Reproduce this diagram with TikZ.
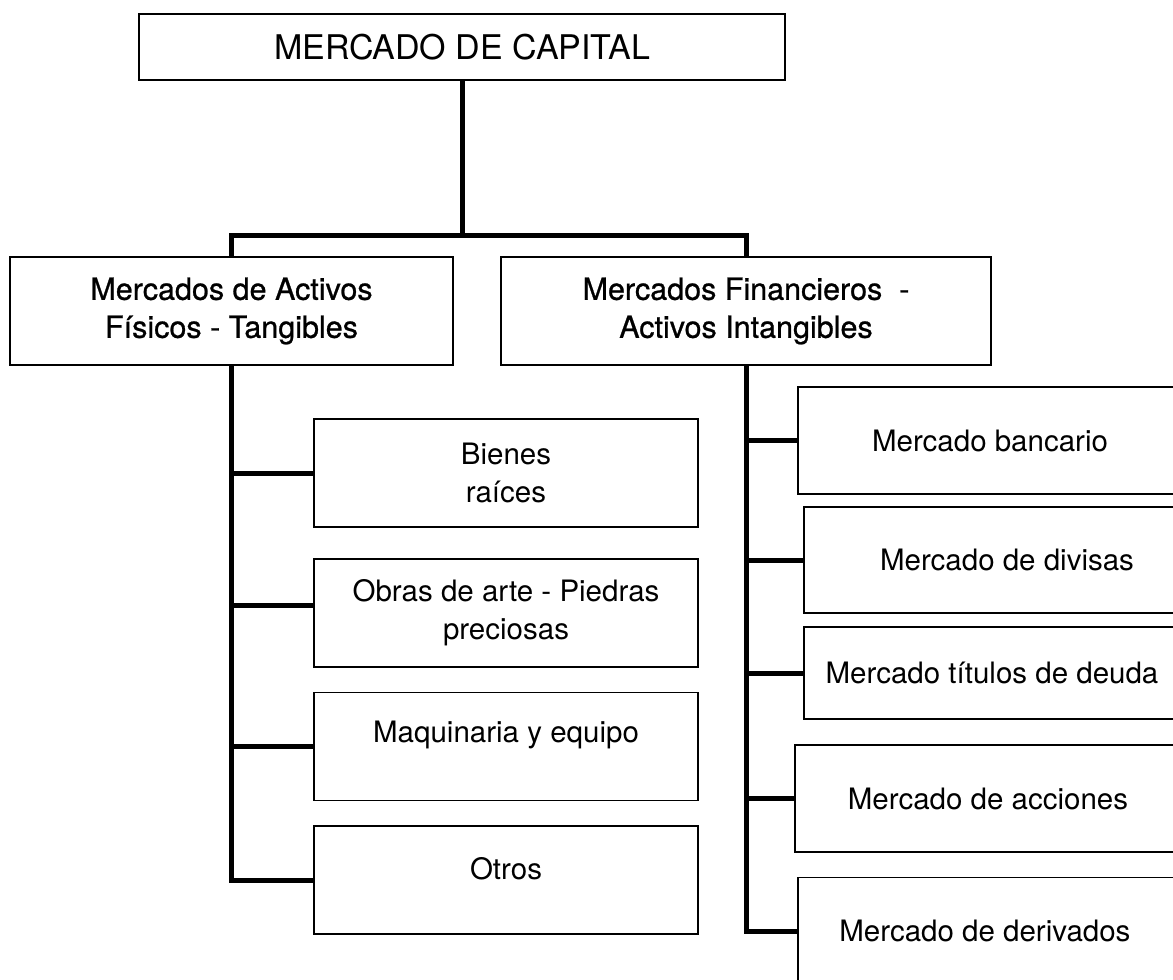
\documentclass[tikz,border=0pt]{standalone}
\usepackage{fontspec}
\setmainfont{TeX Gyre Heros}
\newfontfamily\medfont[FakeBold=0.8]{TeX Gyre Heros}

\begin{document}
\begin{tikzpicture}[x=1pt, y=-1pt,
        mainbox/.style={draw, line width=2pt, inner sep=0pt, minimum width=646pt, minimum height=66pt, font=\fontsize{34}{40}\selectfont},
        groupbox/.style={draw, line width=1.4pt, inner sep=0pt, minimum height=108pt, align=center, font=\medfont\fontsize{30.5}{38}\selectfont},
        itembox/.style={draw, line width=1.2pt, inner sep=0pt, align=center, minimum width=384pt, minimum height=108pt, font=\fontsize{29.5}{38}\selectfont},
        link/.style={line width=5pt}
    ]
        \useasboundingbox (0,0) rectangle (1173,980);

        % Top and the two market groups
        \node[mainbox] (capital) at (462,47) {MERCADO DE CAPITAL};
        \node[groupbox, minimum width=443pt] (fisicos) at (231.5,311) {Mercados de Activos\\Físicos - Tangibles};
        \node[groupbox, minimum width=490pt] (financieros) at (746,311) {Mercados Financieros\ \ -\\Activos Intangibles};

        % Physical assets
        \node[itembox] (bienes) at (506,473) {Bienes\\raíces};
        \node[itembox] (obras) at (506,613) {Obras de arte - Piedras\\preciosas};
        \node[itembox, text height=20pt, text depth=29pt] (maquinaria) at (506,746.5) {Maquinaria y equipo};
        \node[itembox, text height=20pt, text depth=22pt] (otros) at (506,880) {Otros};

        % Financial markets
        \foreach \name/\x/\y/\w/\h/\txt in {
            bancario/990/440.5/384/107/Mercado bancario,
            divisas/1007/560/406/106/Mercado de divisas,
            titulos/992/673/376/92/Mercado títulos de deuda,
            acciones/988/798.5/386/107/Mercado de acciones,
            derivados/989/931/382/107/Mercado de derivados
        } {
            \node[itembox, minimum width=\w pt, minimum height=\h pt] (\name) at (\x,\y) {\txt};
        }

        % Connectors
        \coordinate (split) at (0,235);
        \draw[link] (capital.south) -- (capital.south |- split);
        \draw[link] (fisicos.north) -- (fisicos.north |- split) -- (financieros.north |- split) -- (financieros.north);

        \draw[link] (fisicos.south) -- (fisicos.south |- otros.west) -- (otros.west);
        \draw[link] (fisicos.south |- bienes.west) -- (bienes.west);
        \coordinate (obrasin) at ([yshift=8pt]obras.west);
        \draw[link] (fisicos.south |- obrasin) -- (obrasin);
        \draw[link] (fisicos.south |- maquinaria.west) -- (maquinaria.west);

        \draw[link] (financieros.south) -- (financieros.south |- derivados.west) -- (derivados.west);
        \foreach \name in {bancario, divisas, titulos, acciones}
            \draw[link] (financieros.south |- \name.west) -- (\name.west);
    \end{tikzpicture}
\end{document}
